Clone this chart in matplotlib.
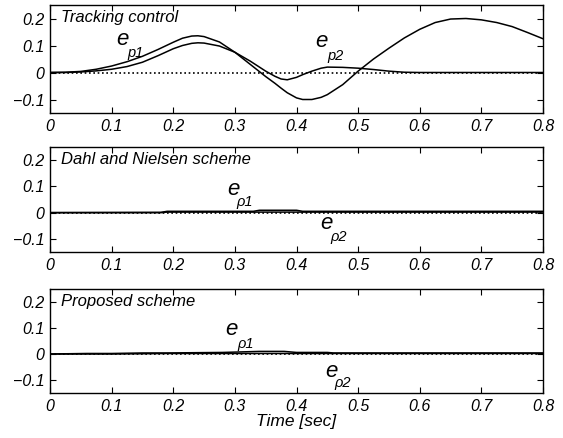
import matplotlib
matplotlib.use("Agg")
import matplotlib.pyplot as plt

plt.rcParams['font.family'] = ['Liberation Sans', 'DejaVu Sans']
plt.rcParams['font.style'] = 'italic'

# ---- data ----
t_track = [0.0, 0.025, 0.05, 0.075, 0.1, 0.125, 0.15, 0.175, 0.2, 0.215, 0.23, 0.24, 0.25, 0.275,
           0.3, 0.325, 0.35, 0.365, 0.375, 0.385, 0.4, 0.41, 0.425, 0.44, 0.45, 0.475, 0.5, 0.525,
           0.55, 0.575, 0.6, 0.625, 0.65, 0.675, 0.7, 0.725, 0.75, 0.775, 0.8]
ep1_track = [0.0, 0.001, 0.004, 0.012, 0.024, 0.040, 0.060, 0.085, 0.112, 0.127, 0.135, 0.136, 0.133,
             0.113, 0.075, 0.030, -0.015, -0.040, -0.058, -0.075, -0.094, -0.100, -0.100, -0.092,
             -0.082, -0.045, 0.005, 0.050, 0.090, 0.128, 0.160, 0.185, 0.198, 0.200, 0.195, 0.185,
             0.170, 0.148, 0.125]
ep2_track = [0.0, 0.0, 0.002, 0.006, 0.012, 0.022, 0.038, 0.062, 0.088, 0.100, 0.108, 0.110, 0.109,
             0.098, 0.075, 0.042, 0.005, -0.014, -0.024, -0.027, -0.018, -0.008, 0.005, 0.016, 0.020,
             0.019, 0.016, 0.011, 0.005, 0.001, 0.0, 0.0, 0.0, 0.0, 0.0, 0.0, 0.0, 0.0, 0.0]

t_dahl = [0.0, 0.18, 0.19, 0.33, 0.34, 0.4, 0.41, 0.8]
ep1_dahl = [0.0, 0.001, 0.005, 0.005, 0.009, 0.009, 0.005, 0.005]
ep2_dahl = [0.0, 0.0, 0.002, 0.002, 0.002, 0.002, 0.002, 0.002]

t_prop = [0.0, 0.06, 0.1, 0.15, 0.19, 0.28, 0.31, 0.34, 0.38, 0.4, 0.45, 0.46, 0.8]
ep1_prop = [0.0, 0.002, 0.002, 0.004, 0.004, 0.006, 0.008, 0.01, 0.01, 0.006, 0.006, 0.004, 0.004]
ep2_prop = [0.0, 0.0, 0.0, 0.001, 0.002, 0.002, 0.002, 0.002, 0.002, 0.002, 0.002, 0.002, 0.002]

titles = ["Tracking control", "Dahl and Nielsen scheme", "Proposed scheme"]
xticks = [0, 0.1, 0.2, 0.3, 0.4, 0.5, 0.6, 0.7, 0.8]
xticklabels = ["0", "0.1", "0.2", "0.3", "0.4", "0.5", "0.6", "0.7", "0.8"]
yticks = [-0.1, 0, 0.1, 0.2]
yticklabels = ["\u22120.1", "0", "0.1", "0.2"]

# label anchor positions (e x, e y, subscript x, subscript y) per panel
lab1 = [(0.108, 0.124, 0.125, 0.072), (0.287, 0.088, 0.303, 0.040), (0.285, 0.094, 0.304, 0.040)]
lab2 = [(0.431, 0.116, 0.450, 0.060), (0.438, -0.042, 0.455, -0.092), (0.446, -0.068, 0.461, -0.112)]
subs = [("p1", "p2"), ("\u03c11", "\u03c12"), ("\u03c11", "\u03c12")]

fig = plt.figure(figsize=(5.63, 4.38), dpi=100)
W, H = 563, 438
left, right = 50, 543
boxes = [(5, 113), (147, 252), (289, 393)]
data = [(t_track, ep1_track, ep2_track), (t_dahl, ep1_dahl, ep2_dahl), (t_prop, ep1_prop, ep2_prop)]

for i, (top, bot) in enumerate(boxes):
    ax = fig.add_axes([left / W, 1 - bot / H, (right - left) / W, (bot - top) / H])
    t, a, b = data[i]
    ax.axhline(0, color='k', lw=1.2, ls=(0, (1, 1.6)))
    ax.plot(t, a, color='k', lw=1.1)
    ax.plot(t, b, color='k', lw=1.1)
    ax.set_xlim(0, 0.8)
    ax.set_ylim(-0.15, 0.25)
    ax.set_xticks(xticks)
    ax.set_xticklabels(xticklabels)
    ax.set_yticks(yticks)
    ax.set_yticklabels(yticklabels)
    ax.tick_params(direction='in', length=4.5, width=0.8, top=True, right=True, labelsize=11.5, pad=4)
    for s in ax.spines.values():
        s.set_linewidth(1.0)
    ax.text(0.022, 0.88, titles[i], transform=ax.transAxes, fontsize=12, style='italic', va='center')
    for (ex, ey, sx, sy), sub in zip([lab1[i], lab2[i]], subs[i]):
        ax.text(ex, ey, "e", fontsize=16, style='italic', va='center', ha='left')
        ax.text(sx, sy, sub, fontsize=10.5, style='italic', va='center', ha='left')
    if i == 2:
        ax.set_xlabel("Time [sec]", fontsize=12.5, style='italic', labelpad=0)

fig.savefig("out.png", dpi=100)
